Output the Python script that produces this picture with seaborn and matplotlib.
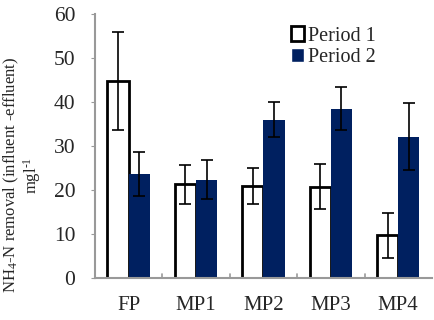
import matplotlib
matplotlib.use("Agg")
import matplotlib.pyplot as plt
import pandas as pd
import seaborn as sns

categories = ["FP", "MP1", "MP2", "MP3", "MP4"]
periods = ["Period 1", "Period 2"]
period1 = [44.8, 21.3, 20.9, 20.8, 9.7]
period2 = [23.6, 22.4, 36.0, 38.5, 32.1]
period1_err = [11.2, 4.5, 4.1, 5.2, 5.1]
period2_err = [5.0, 4.5, 4.0, 4.9, 7.6]

df = pd.DataFrame({
    "site": categories * 2,
    "period": [periods[0]] * 5 + [periods[1]] * 5,
    "value": period1 + period2,
})

sns.set_style("white")
plt.rcParams["font.family"] = ["Liberation Serif", "DejaVu Serif"]
plt.rcParams["mathtext.fontset"] = "custom"
plt.rcParams["mathtext.rm"] = "Liberation Serif"
plt.rcParams["mathtext.it"] = "Liberation Serif:italic"

fig = plt.figure(figsize=(4.35, 3.2), dpi=100)
ax = fig.add_axes([0.218, 0.131, 0.775, 0.825])

sns.barplot(data=df, x="site", y="value", hue="period", order=categories,
            hue_order=periods, width=0.63, errorbar=None, ax=ax,
            palette=["white", "#002060"], saturation=1)

# style bars: period 1 white with black edge, period 2 navy
for container, period in zip(ax.containers, periods):
    for bar in container:
        if period == "Period 1":
            bar.set_facecolor("white")
            bar.set_edgecolor("black")
            bar.set_linewidth(2)
        else:
            bar.set_facecolor("#002060")
            bar.set_edgecolor("#002060")
            bar.set_linewidth(0)

for container, errs in zip(ax.containers, [period1_err, period2_err]):
    xs = [b.get_x() + b.get_width() / 2 for b in container]
    ys = [b.get_height() for b in container]
    ax.errorbar(xs, ys, yerr=errs, fmt="none", ecolor="black",
                elinewidth=1.2, capsize=4, capthick=1.2)

ax.set_ylim(0, 60)
ax.set_xlim(-0.5, 4.5)
ax.set_yticks(range(0, 61, 10))
ax.set_xlabel("")
ax.set_ylabel("NH$_4$-N removal (influent -effluent)\nmgl$^{\\text{-1}}$",
              fontsize=12, linespacing=1.0)
ax.yaxis.set_label_coords(-0.155, 0.39)
ax.tick_params(axis="y", labelsize=15.5, length=3, color="#999999",
               direction="out", left=True, pad=11)
ax.tick_params(axis="x", labelsize=15, length=0, pad=13)
ax.set_xticks(range(5))
ax.set_xticklabels(categories)
for b in [0.5, 1.5, 2.5, 3.5]:
    ax.plot([b, b], [0, 0.9], color="#999999", lw=1.2, clip_on=False)

sns.despine(ax=ax)
for side in ["left", "bottom"]:
    ax.spines[side].set_color("#999999")
    ax.spines[side].set_linewidth(1.5)

leg = ax.legend(loc="upper left", bbox_to_anchor=(0.545, 1.0), frameon=False,
                fontsize=14.5, handlelength=0.65, handleheight=0.75,
                handletextpad=0.2, labelspacing=0.1, borderaxespad=0.2)
leg.legend_handles[0].set_edgecolor("black")
leg.legend_handles[0].set_linewidth(2)

fig.savefig("out.png", dpi=100)
